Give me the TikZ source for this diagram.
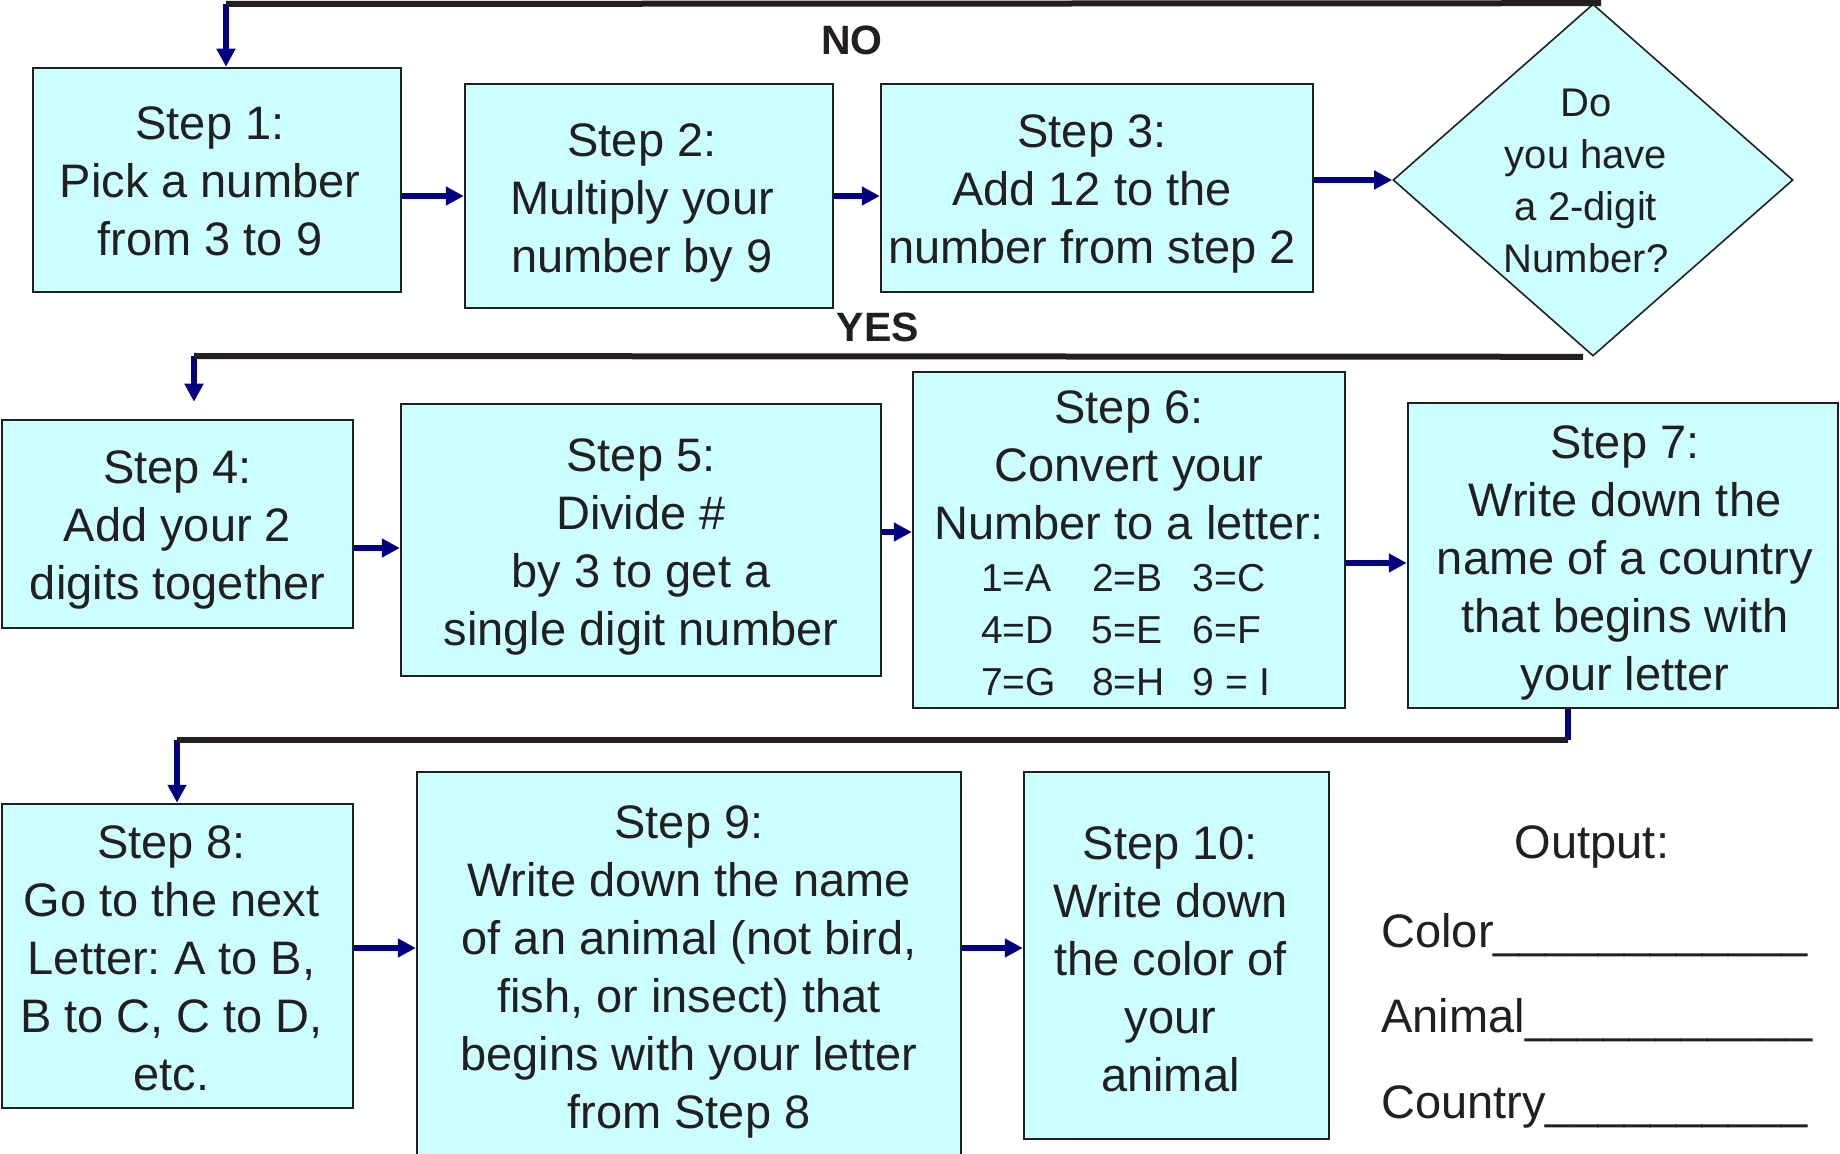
\documentclass[tikz,border=0pt]{standalone}
\usepackage{fontspec}
\setmainfont{Liberation Sans}
\usetikzlibrary{arrows.meta,shapes.geometric,calc}
\definecolor{boxfill}{HTML}{CCFFFF}
\definecolor{ink}{HTML}{231F20}
\definecolor{flownavy}{HTML}{000080}
\frenchspacing
% one row of the number-to-letter table
\newcommand\stepnums[3]{{\fontsize{19.5}{26}\selectfont\makebox[148pt][l]{\makebox[55.5pt][l]{#1}\makebox[50.5pt][l]{#2}#3}}}
\begin{document}
\begin{tikzpicture}[x=0.5pt,y=-0.5pt,
  stepbox/.style={draw=ink,line width=1.25pt,fill=boxfill,inner sep=0pt},
  steptext/.style={text=ink,align=center,inner sep=0pt,font=\fontsize{23.5}{29}\selectfont},
  decision/.style={diamond,draw=ink,line width=0.8pt,fill=boxfill,inner sep=0pt},
  decisiontext/.style={text=ink,align=center,inner sep=0pt,font=\fontsize{20}{26}\selectfont},
  flowline/.style={draw=ink,line width=3pt},
  feed/.style={draw=flownavy,line width=3pt},
  arr/.style={feed,-{Triangle[length=9pt,width=9pt]}},
  tag/.style={text=ink,inner sep=0pt,font=\bfseries\fontsize{20.5}{24}\selectfont},
  outtext/.style={text=ink,inner sep=0pt,font=\fontsize{23.5}{29}\selectfont},
]
\useasboundingbox (0,0) rectangle (1840,1154);
\clip (0,0) rectangle (1840,1154);

% row 1
\node[stepbox,minimum width=184pt,minimum height=112pt] (s1) at (217,180) {};
\node[steptext] (s1t) at ($(s1)+(-7,1)$) {Step 1:\\Pick a number\\from 3 to 9};
\node[stepbox,minimum width=184pt,minimum height=112pt] (s2) at (649,196) {};
\node[steptext] (s2t) at ($(s2)+(-7,7)$) {Step 2:\\Multiply your\\number by 9};
\node[stepbox,minimum width=216pt,minimum height=104pt] (s3) at (1097,188) {};
\node[steptext] (s3t) at ($(s3)+(-5,6)$) {Step 3:\\Add 12 to the\\number from step 2};
\node[decision,minimum width=200pt,minimum height=176pt] (dia) at (1593,180) {};
\node[decisiontext] (diat) at ($(dia)+(-7,1)$) {Do\\you have\\a 2-digit\\Number?};

% row 2
\node[stepbox,minimum width=175.5pt,minimum height=104pt] (s4) at (177.5,524) {};
\node[steptext] (s4t) at ($(s4)+(0,6)$) {Step 4:\\Add your 2\\digits together};
\node[stepbox,minimum width=240pt,minimum height=136pt] (s5) at (641,540) {};
\node[steptext] (s5t) at ($(s5)+(0,7)$) {Step 5:\\Divide \#\\by 3 to get a\\single digit number};
\node[stepbox,minimum width=216pt,minimum height=168pt] (s6) at (1129,540) {};
\node[steptext] (s6t) at ($(s6)+(0,3)$) {Step 6:\\Convert your\\Number to a letter:\\[-3pt]\stepnums{1=A}{2=B}{3=C}\\[-3pt]\stepnums{4=D}{5=E}{6=F}\\[-3pt]\stepnums{7=G}{8=H}{9 = I}};
\node[stepbox,minimum width=215pt,minimum height=152.5pt] (s7) at (1623,555.5) {};
\node[steptext] (s7t) at ($(s7)+(2,7)$) {Step 7:\\Write down the\\name of a country\\that begins with\\your letter};

% row 3
\node[stepbox,minimum width=175.5pt,minimum height=152pt] (s8) at (177.5,956) {};
\node[steptext] (s8t) at ($(s8)+(-6,2)$) {Step 8:\\Go to the next\\Letter: A to B,\\B to C, C to D,\\etc.};
\node[stepbox,minimum width=272pt,minimum height=198pt] (s9) at (689,970) {};
\node[steptext] (s9t) at ($(s9)+(0,2)$) {Step 9:\\Write down the name\\of an animal (not bird,\\fish, or insect) that\\begins with your letter\\from Step 8};
\node[stepbox,minimum width=152.5pt,minimum height=183.5pt] (s10) at (1176.5,955.5) {};
\node[steptext] (s10t) at ($(s10)+(-6,4)$) {Step 10:\\Write down\\the color of\\your\\animal};

% answer sheet
\node[outtext,anchor=base] (outhead) at (1592,858) {Output:};
\node[outtext,anchor=base west] (outcolor) at (1381,947) {Color\_\_\_\_\_\_\_\_\_\_\_\_};
\node[outtext,anchor=base west] (outanimal) at (1381,1032) {Animal\_\_\_\_\_\_\_\_\_\_\_};
\node[outtext,anchor=base west] (outcountry) at (1381,1118) {Country\_\_\_\_\_\_\_\_\_\_};

% branch labels
\node[tag,anchor=base] (nolabel) at (852,55) {NO};
\node[tag,anchor=base] (yeslabel) at (878,342) {YES};

% turning points of the return lines
\coordinate (nodrop) at (226,4);
\coordinate (yesdrop) at (194,356);
\coordinate (turn) at (1568,740);
\coordinate (s8drop) at (177,740);

% arrows between neighbouring steps
\coordinate (a45) at ($(s4.east)+(0,24)$);
\coordinate (a56) at ($(s5.east)+(0,-8)$);
\coordinate (a67) at ($(s6.east)+(0,23)$);
\coordinate (a89) at ($(s8.east)+(0,-8)$);
\coordinate (a910) at ($(s9.east)+(0,-22)$);
\draw[arr] (s1.east |- s2.west) -- (s2.west);
\draw[arr] (s2.east) -- (s2.east -| s3.west);
\draw[arr] (s3.east |- dia.west) -- (dia.west);
\draw[arr] (a45) -- (a45 -| s5.west);
\draw[arr] (a56) -- (a56 -| s6.west);
\draw[arr] (a67) -- (a67 -| s7.west);
\draw[arr] (a89) -- (a89 -| s9.west);
\draw[arr] (a910) -- (a910 -| s10.west);

% drops into the first step of each row
\draw[arr] (nodrop) -- (nodrop |- s1.north);
\draw[arr,shorten >=8.5pt] (yesdrop) -- (yesdrop |- s4.north);
\draw[feed] (turn |- s7.south) -- (turn);
\draw[arr] (s8drop) -- (s8drop |- s8.north);

% return lines
\draw[flowline] ($(dia.north)+(8,0)$) -- (nodrop);
\draw[flowline] ($(dia.south)+(-10,0)$) -- (yesdrop);
\draw[flowline] (turn) -- (s8drop);
\end{tikzpicture}
\end{document}
